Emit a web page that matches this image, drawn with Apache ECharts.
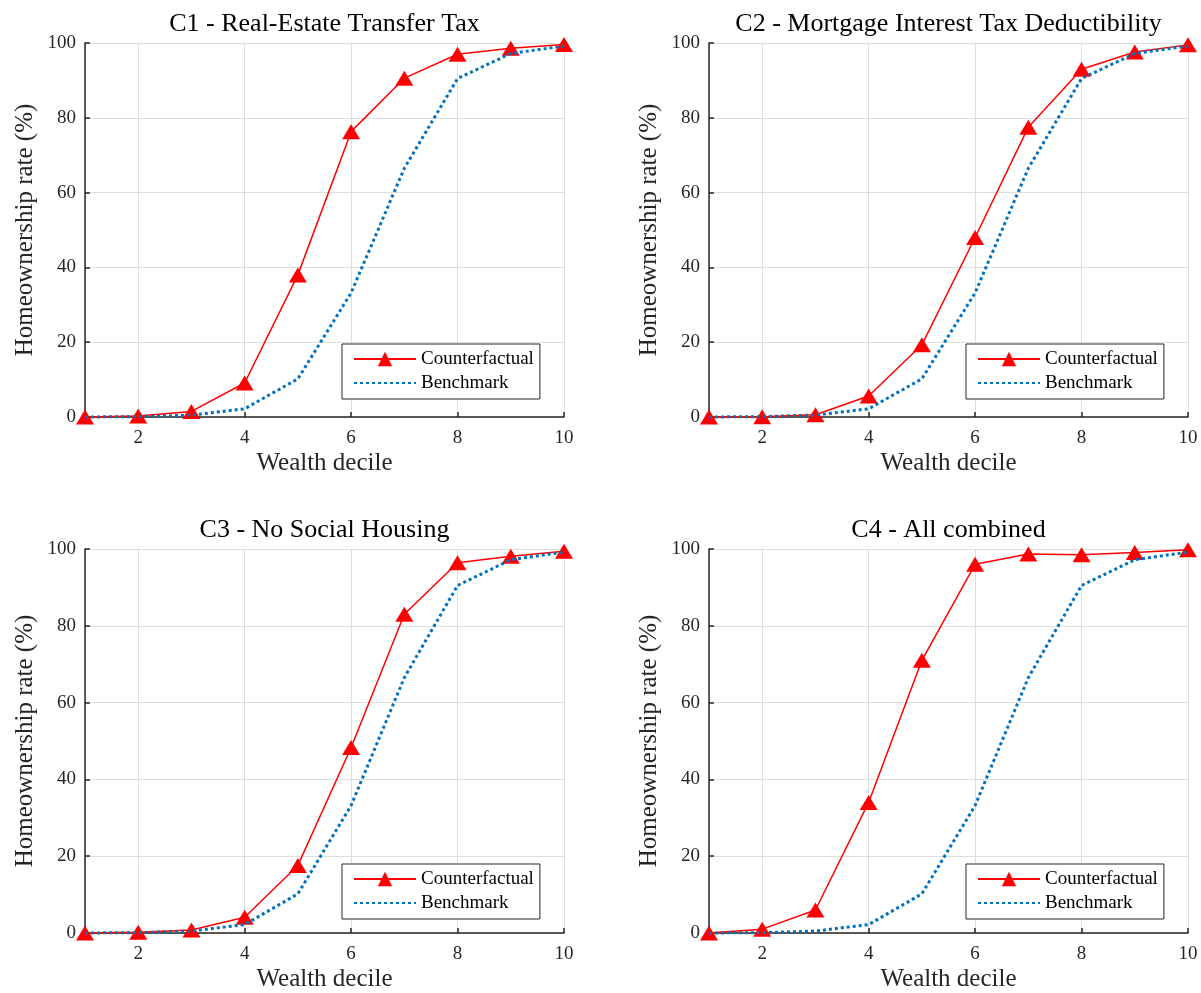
<!DOCTYPE html>
<html>
<head>
<meta charset="utf-8">
<script src="https://cdn.jsdelivr.net/npm/echarts@6/dist/echarts.min.js"></script>
<style>
  html, body { margin: 0; padding: 0; background: #fff; }
  #main { width: 1201px; height: 993px; }
</style>
</head>
<body>
<div id="main"></div>
<script>
// data
var deciles = [1, 2, 3, 4, 5, 6, 7, 8, 9, 10];
var benchmark = [0, 0.1, 0.5, 2.2, 10.2, 33.2, 66.5, 90.5, 97.2, 99.2];
var c1 = [0, 0.3, 1.5, 9.1, 38, 76.3, 90.6, 97, 98.6, 99.6];
var c2 = [0, 0.1, 0.6, 5.6, 19.3, 48, 77.5, 93, 97.6, 99.5];
var c3 = [0, 0.2, 0.8, 4.1, 17.6, 48.3, 83, 96.4, 98.1, 99.4];
var c4 = [0, 1, 6, 34, 71, 96, 98.7, 98.5, 99.1, 99.8];
var titles = ['C1 - Real-Estate Transfer Tax', 'C2 - Mortgage Interest Tax Deductibility',
              'C3 - No Social Housing', 'C4 - All combined'];
var counterfactuals = [c1, c2, c3, c4];
var yTicks = [0, 20, 40, 60, 80, 100];

var font = 'Liberation Serif';
var ink = '#262626';

// panel boxes
var grids = [
  { left: 85, top: 43, width: 479, height: 374 },
  { left: 709, top: 43, width: 479, height: 374 },
  { left: 85, top: 549, width: 479, height: 388 },
  { left: 709, top: 549, width: 479, height: 388 }
];

function pairs(ys) {
  return deciles.map(function (x, i) { return [x, ys[i]]; });
}

var myChart = echarts.init(document.getElementById('main'));

var option = {
  backgroundColor: '#fff',
  animation: false,
  title: grids.map(function (g, i) {
    return {
      text: titles[i],
      left: g.left + g.width / 2 - 5,
      top: g.top - 37,
      textAlign: 'center',
      textStyle: { fontFamily: font, fontSize: 26, fontWeight: 'normal', color: '#000' }
    };
  }),
  legend: grids.map(function (g, i) {
    return {
      data: [
        { name: 'Counterfactual' },
        { name: 'Benchmark', itemStyle: { opacity: 0 } }   // line only, no marker
      ],
      orient: 'vertical',
      left: g.left + 257,
      top: g.top + g.height - 73,
      itemWidth: 62,
      itemHeight: 18,
      itemGap: 4,
      padding: [5, 6, 6, 11],
      borderColor: ink,
      borderWidth: 1,
      borderRadius: 0,
      backgroundColor: '#fff',
      selectedMode: false,
      textStyle: { fontFamily: font, fontSize: 19, color: '#000', lineHeight: 20 }
    };
  }),
  grid: grids,
  xAxis: grids.map(function (g, i) {
    return {
      type: 'value',
      gridIndex: i,
      min: 1,
      max: 10,
      splitNumber: 5,
      name: 'Wealth decile',
      nameLocation: 'middle',
      nameGap: 34,
      nameTextStyle: { fontFamily: font, fontSize: 25, color: ink },
      axisLine: { show: true, lineStyle: { color: ink, width: 1.5 } },
      axisTick: { show: true, inside: true, length: 5, lineStyle: { color: ink, width: 1.5 } },
      axisLabel: { showMinLabel: false, margin: 12, fontFamily: font, fontSize: 19, color: ink },
      splitLine: { show: true, lineStyle: { color: '#dedede', width: 1 } }
    };
  }),
  yAxis: grids.map(function (g, i) {
    return {
      type: 'value',
      gridIndex: i,
      min: yTicks[0],
      max: yTicks[yTicks.length - 1],
      interval: 20,
      name: 'Homeownership rate (%)',
      nameLocation: 'middle',
      nameGap: 47,
      nameTextStyle: { fontFamily: font, fontSize: 25, color: ink },
      axisLine: { show: true, lineStyle: { color: ink, width: 1.5 } },
      axisTick: { show: true, inside: true, length: 5, lineStyle: { color: ink, width: 1.5 } },
      axisLabel: { margin: 9, fontFamily: font, fontSize: 19, color: ink },
      splitLine: { show: true, lineStyle: { color: '#dedede', width: 1 } }
    };
  }),
  series: []
};

counterfactuals.forEach(function (cf, i) {
  option.series.push({
    name: 'Counterfactual',
    type: 'line',
    xAxisIndex: i,
    yAxisIndex: i,
    data: pairs(cf),
    clip: false,
    symbol: 'triangle',
    symbolSize: [18, 15],
    itemStyle: { color: '#ff0000' },
    lineStyle: { color: '#ff0000', width: 1.5 },
    z: 2
  });
  option.series.push({
    name: 'Benchmark',
    type: 'line',
    xAxisIndex: i,
    yAxisIndex: i,
    data: pairs(benchmark),
    clip: false,
    symbol: 'none',
    itemStyle: { color: '#0072bd' },
    lineStyle: { color: '#0072bd', width: 3, type: [3, 3] },
    z: 3
  });
});

myChart.setOption(option);
</script>
</body>
</html>
